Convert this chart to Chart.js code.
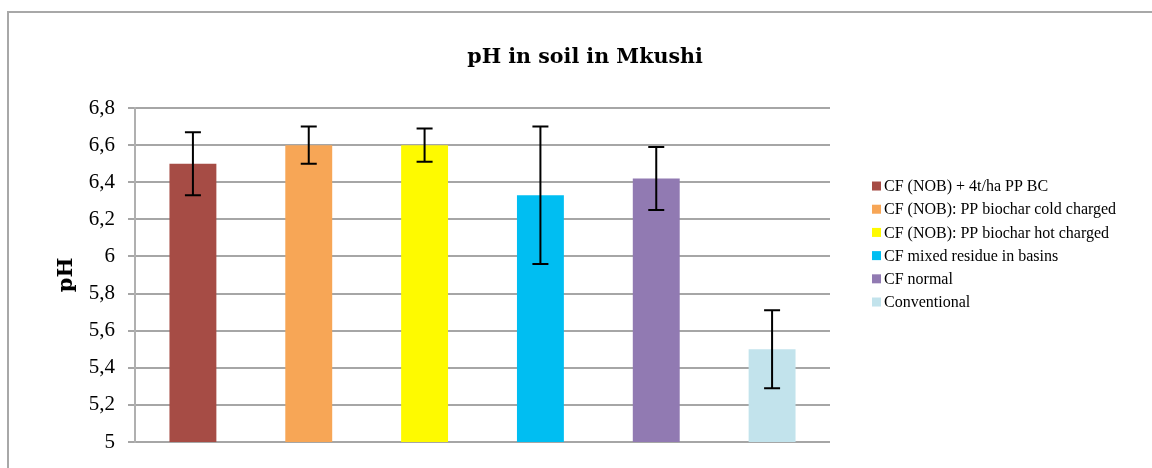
<!DOCTYPE html>
<html>
<head>
<meta charset="utf-8">
<script src="https://cdn.jsdelivr.net/npm/chart.js@4.4.0/dist/chart.umd.min.js"></script>
<style>
  html, body { margin: 0; padding: 0; background: #fff; }
  #wrap { position: relative; width: 1152px; height: 468px; overflow: hidden; }
  #frame { position: absolute; left: 7px; top: 11px; right: 0; bottom: 0;
           border-top: 2px solid #a8a8a8; border-left: 2px solid #a8a8a8; }
  canvas { position: absolute; left: 0; top: 0; }
</style>
</head>
<body>
<div id="wrap">
  <div id="frame"></div>
  <canvas id="ph-chart" width="1152" height="468"></canvas>
</div>
<script>
var treatments = [
    "CF (NOB) + 4t/ha PP BC",
    "CF (NOB): PP biochar cold charged",
    "CF (NOB): PP biochar hot charged",
    "CF mixed residue in basins",
    "CF normal",
    "Conventional"
];
var phMean = [6.50, 6.60, 6.60, 6.33, 6.42, 5.50];
var phError = [0.17, 0.10, 0.09, 0.37, 0.17, 0.21];
var barColors = ["#a64c45", "#f7a656", "#fefa00", "#00bef2", "#917ab2", "#c2e3ec"];
var yMin = 5, yMax = 6.8, yStep = 0.2;

var serif = '"Liberation Serif", "DejaVu Serif", serif';
var boldSerif = '"DejaVu Serif", serif';

// one dataset per treatment so each bar sits alone in its slot
var datasets = treatments.map(function (name, i) {
    var data = treatments.map(function (_, j) { return j === i ? phMean[i] : null; });
    return {
        label: name,
        data: data,
        backgroundColor: barColors[i],
        barPercentage: 0.405,
        categoryPercentage: 1,
        grouped: false
    };
});

// whiskers for the standard error
var errorBars = {
    id: 'errorBars',
    afterDatasetsDraw: function (chart) {
        var ctx = chart.ctx;
        var y = chart.scales.y;
        ctx.save();
        ctx.strokeStyle = '#000';
        ctx.lineWidth = 2;
        chart.data.datasets.forEach(function (ds, i) {
            var bar = chart.getDatasetMeta(i).data[i];
            var top = y.getPixelForValue(phMean[i] + phError[i]);
            var bottom = y.getPixelForValue(phMean[i] - phError[i]);
            ctx.beginPath();
            ctx.moveTo(bar.x, top);
            ctx.lineTo(bar.x, bottom);
            ctx.moveTo(bar.x - 8, top);
            ctx.lineTo(bar.x + 8, top);
            ctx.moveTo(bar.x - 8, bottom);
            ctx.lineTo(bar.x + 8, bottom);
            ctx.stroke();
        });
        ctx.restore();
    }
};

// legend to the right of the plot, square swatches
var sideLegend = {
    id: 'sideLegend',
    afterDraw: function (chart) {
        var ctx = chart.ctx;
        var area = chart.chartArea;
        var x = area.right + 42;
        var y0 = area.top + 78;
        ctx.save();
        ctx.font = '16px ' + serif;
        ctx.textBaseline = 'middle';
        ctx.textAlign = 'left';
        chart.data.datasets.forEach(function (ds, i) {
            var cy = y0 + i * 23.2;
            ctx.fillStyle = ds.backgroundColor;
            ctx.fillRect(x, cy - 4.5, 9, 9);
            ctx.fillStyle = '#000';
            ctx.fillText(ds.label, x + 12, cy + 1);
        });
        ctx.restore();
    }
};

new Chart(document.getElementById('ph-chart'), {
    type: 'bar',
    data: {
        labels: treatments,
        datasets: datasets
    },
    plugins: [errorBars, sideLegend],
    options: {
        responsive: false,
        animation: false,
        layout: { padding: { left: 18, right: 0, top: 0, bottom: 26 } },
        plugins: {
            legend: { display: false },
            tooltip: { enabled: false },
            title: {
                display: true,
                text: 'pH in soil in Mkushi',
                color: '#000',
                font: { family: boldSerif, size: 20.6, weight: 'bold' },
                padding: { top: 45, bottom: 38.3 }
            }
        },
        scales: {
            x: { display: false },
            y: {
                min: yMin,
                max: yMax,
                ticks: {
                    stepSize: yStep,
                    padding: 13,
                    color: '#000',
                    font: { family: serif, size: 21 },
                    callback: function (v) {
                        return String(Math.round(v * 10) / 10).replace('.', ',');
                    }
                },
                grid: { color: '#a6a6a6', lineWidth: 2, tickLength: 7 },
                border: { display: true, color: '#b0b0b0', width: 2 },
                title: {
                    display: true,
                    text: 'pH',
                    color: '#000',
                    font: { family: boldSerif, size: 21, weight: 'bold' },
                    padding: { top: 36, bottom: 0 }
                },
                afterFit: function (scale) { scale.width = 117; }
            },
            // empty axis that keeps room for the legend on the right
            legendRoom: {
                position: 'right',
                display: true,
                grid: { display: false },
                ticks: { display: false },
                border: { display: false },
                afterFit: function (scale) { scale.width = 322; }
            }
        }
    }
});
</script>
</body>
</html>
